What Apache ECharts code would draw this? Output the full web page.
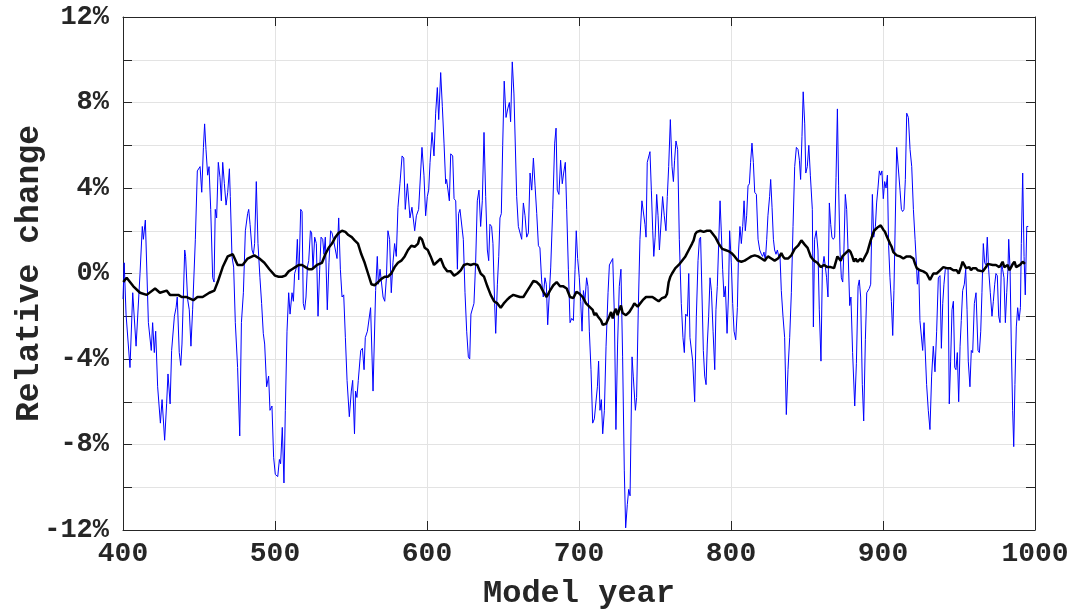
<!DOCTYPE html>
<html><head><meta charset="utf-8">
<script src="https://cdn.jsdelivr.net/npm/echarts@6/dist/echarts.min.js"></script>
<style>html,body{margin:0;padding:0;background:#fff}#c{width:1075px;height:609px}</style>
</head><body><div id="c"></div>
<script>
const blueYears = [400.0,400.8,402.0,404.6,406.4,408.6,411.2,412.7,413.4,414.7,416.7,418.6,419.5,420.6,421.5,422.8,424.6,425.7,427.4,428.7,429.6,431.0,432.0,433.8,434.9,435.7,437.0,438.0,438.8,440.6,441.2,442.5,443.6,444.7,445.8,447.6,448.9,450.7,451.8,452.9,453.7,454.6,455.7,456.6,457.7,459.0,459.9,460.7,461.6,462.7,463.8,464.7,465.6,466.7,467.8,468.9,470.0,470.6,471.7,472.8,473.9,475.4,476.8,477.9,479.2,480.5,482.0,482.7,483.6,484.9,485.8,486.6,487.7,488.8,490.1,491.2,492.3,493.2,494.5,495.8,496.7,498.0,499.1,500.2,501.8,502.9,503.7,504.8,505.9,506.8,507.9,509.0,509.9,511.2,512.1,512.9,513.8,514.7,515.6,516.2,516.9,517.8,518.6,519.5,520.4,521.3,522.2,523.3,524.1,525.0,526.1,527.2,528.3,529.4,530.3,531.4,532.2,533.1,534.4,535.5,536.6,537.5,538.4,539.7,540.8,541.9,543.0,544.1,545.2,546.3,547.4,548.9,550.2,551.1,552.3,553.0,553.9,554.8,556.4,557.5,558.6,559.4,560.8,562.9,564.5,566.2,567.3,568.0,569.1,571.1,572.2,573.3,574.3,575.4,576.5,577.6,578.7,579.8,580.9,582.2,583.6,584.7,585.7,587.1,588.8,590.1,591.9,593.0,594.5,596.7,598.0,599.1,600.2,601.1,602.0,603.3,604.6,605.7,606.8,607.7,609.0,610.1,611.2,612.3,612.9,613.8,614.7,615.6,616.9,617.8,618.9,620.0,620.8,621.7,622.8,623.9,625.0,626.1,627.2,628.1,628.9,629.8,630.9,632.0,633.1,634.2,635.3,636.4,637.5,638.6,639.7,640.6,641.4,642.5,643.4,644.5,645.2,646.3,647.2,648.0,648.9,649.8,650.8,652.0,653.1,654.2,655.0,656.1,657.2,658.1,659.0,660.1,661.2,662.3,663.4,664.5,665.6,666.7,667.8,668.9,670.0,671.1,672.2,673.3,674.3,675.4,676.5,677.6,678.5,679.4,680.5,681.4,682.7,684.0,684.9,685.7,686.8,687.9,689.0,689.9,691.0,691.9,693.0,694.1,695.2,696.3,697.4,698.2,699.1,700.2,701.1,702.0,702.9,703.9,705.0,705.9,706.8,707.9,709.0,710.1,711.2,712.1,712.9,713.8,714.7,715.6,716.7,717.8,719.1,720.0,721.1,722.2,723.3,724.3,725.4,726.5,727.6,728.7,729.8,730.7,731.8,732.7,733.6,734.9,735.7,737.1,737.9,739.0,740.1,741.4,742.3,743.4,744.1,744.9,745.8,746.7,747.6,748.5,749.2,750.1,751.1,752.0,752.9,753.7,755.0,756.1,757.2,758.1,759.0,760.1,761.2,762.1,762.9,763.8,764.9,766.0,767.3,768.4,769.3,770.2,771.3,772.2,773.0,773.9,774.8,776.1,777.2,778.3,779.2,780.0,780.9,781.8,782.7,783.6,784.4,785.3,786.2,787.1,788.2,789.3,790.1,791.0,791.9,792.8,793.6,794.5,795.4,796.3,797.4,798.3,799.1,800.2,801.1,802.0,803.1,804.2,805.0,805.9,806.8,807.7,808.6,809.4,810.3,811.2,812.1,812.9,813.8,814.7,815.6,816.7,817.8,818.9,820.0,820.8,821.7,822.6,823.5,824.3,825.4,826.1,827.0,827.9,828.7,829.6,830.5,831.4,832.2,833.1,834.2,835.3,836.4,837.5,838.6,839.7,840.8,841.9,843.0,844.1,845.0,845.8,846.7,847.5,848.5,849.2,850.2,851.2,852.2,853.5,854.2,855.0,856.1,857.2,858.1,859.2,860.1,861.2,862.1,862.9,863.8,864.7,865.6,866.4,867.3,868.2,869.1,870.0,870.8,871.7,872.6,873.5,874.3,875.2,876.1,877.0,878.1,878.9,880.0,881.4,882.5,883.6,884.4,885.3,886.4,887.3,888.4,889.3,890.1,891.0,891.9,893.0,893.9,895.0,895.8,896.7,897.6,898.5,899.3,900.2,901.1,902.0,902.9,903.7,904.6,905.5,906.4,907.2,908.1,909.0,910.1,911.2,912.1,912.9,913.8,914.7,915.6,916.7,917.8,918.9,920.0,921.1,922.1,922.6,923.5,924.3,925.2,926.1,927.0,927.9,928.7,929.8,930.9,932.0,933.1,934.2,935.3,936.4,937.5,938.4,939.3,940.1,941.0,941.9,942.8,943.6,944.5,945.4,946.3,947.2,948.0,948.9,949.8,950.7,951.5,952.4,953.5,954.4,955.3,956.1,957.2,958.1,959.0,960.1,961.2,962.5,963.4,964.3,965.1,966.0,966.9,967.8,968.6,969.5,970.6,971.7,972.6,973.5,974.3,975.2,976.1,977.0,977.9,978.7,979.6,980.5,981.4,982.2,982.7,983.6,984.4,985.3,986.0,986.8,987.7,988.6,989.5,990.4,991.0,991.9,992.8,993.6,994.6,995.6];
const blueValues = [-1.2,0.5,-1.9,-4.4,-0.9,-3.4,0.0,2.2,1.6,2.5,-2.3,-3.6,-2.3,-3.7,-2.7,-5.3,-7.0,-5.9,-7.8,-6.1,-4.7,-6.1,-3.6,-2.0,-1.6,-1.1,-3.7,-4.3,-3.3,1.1,0.8,-1.2,-1.7,-3.4,-1.7,1.6,4.8,5.0,3.8,5.9,7.0,5.8,4.6,5.0,3.0,-0.2,-0.4,3.0,2.6,5.2,4.5,3.4,5.2,4.2,3.2,3.8,4.9,3.6,0.8,0.3,-2.3,-4.4,-7.6,-2.3,-0.9,2.0,2.8,3.0,2.3,1.1,0.9,1.4,4.3,1.4,-0.2,-1.4,-2.8,-3.3,-5.3,-4.8,-6.4,-6.2,-8.6,-9.4,-9.5,-8.7,-8.9,-7.2,-9.8,-6.4,-2.7,-0.9,-1.9,-0.9,-1.3,0.0,0.2,1.6,-0.3,1.1,3.0,2.9,-1.4,-1.7,-1.1,0.3,0.6,2.0,1.9,0.2,1.7,1.4,-2.0,0.2,1.7,1.6,0.9,1.7,-1.7,0.5,2.0,1.9,1.6,1.6,0.7,2.6,0.2,-1.1,-1.0,-3.0,-5.0,-6.7,-5.5,-5.0,-7.5,-5.5,-5.8,-5.0,-3.6,-3.5,-4.5,-3.0,-2.7,-1.6,-5.5,-0.8,0.8,-0.5,0.2,-1.1,-1.3,-0.2,2.0,1.6,-0.9,0.5,1.4,0.8,3.1,4.2,5.5,5.4,3.0,4.2,2.6,3.1,2.0,2.7,3.0,5.9,4.6,2.7,3.6,3.9,5.2,6.6,5.5,7.5,8.7,7.2,9.4,7.8,6.1,4.2,4.4,4.4,3.4,5.6,5.5,3.5,3.4,0.2,2.8,3.0,3.0,1.6,-0.9,-2.7,-3.9,-4.0,-1.9,-1.9,-1.4,0.5,3.4,3.9,2.2,3.4,6.6,3.6,1.1,0.6,2.3,2.2,1.4,-1.4,-2.8,-0.5,0.8,2.6,2.8,6.0,9.0,7.3,7.7,8.0,7.1,9.9,8.4,8.4,3.6,2.2,2.2,1.6,3.3,2.7,1.7,1.9,4.7,3.9,5.4,4.1,2.8,1.3,1.2,-0.3,-1.1,-0.2,-0.5,-2.4,-0.9,0.3,3.0,6.1,6.8,3.9,3.7,5.3,4.2,4.7,5.2,3.0,0.2,-2.3,-2.1,-2.2,0.2,2.0,0.7,-0.2,-1.3,-2.7,-0.8,-1.3,-0.2,-0.6,-2.7,-4.5,-7.0,-6.8,-6.8,-5.3,-4.1,-6.4,-5.9,-7.5,-6.4,-3.4,-0.9,0.4,0.4,0.7,-2.0,-7.3,-3.3,-0.6,0.2,-3.9,-9.2,-11.9,-10.8,-10.1,-10.4,-3.9,-4.8,-6.4,-5.8,-1.7,1.6,3.4,3.4,2.3,1.7,5.2,5.2,5.7,3.9,2.0,0.8,1.7,3.7,2.7,1.1,1.1,3.6,2.7,2.0,3.6,5.0,7.2,5.0,4.3,5.3,6.2,5.8,1.6,-1.4,-3.0,-3.7,-1.9,-2.0,0.0,-3.0,-3.0,-4.1,-6.0,-2.0,0.6,1.6,1.7,1.7,-3.6,-4.8,-5.2,-3.3,-2.0,-0.2,-0.8,-2.7,-4.5,-1.7,-0.6,1.4,3.4,2.0,0.2,-1.1,-0.6,-2.8,-1.1,2.0,0.5,-1.4,-2.7,-3.1,-1.6,1.1,2.2,1.4,2.2,3.4,2.0,2.7,4.1,4.2,5.2,6.1,5.2,3.8,3.7,1.6,1.1,0.9,0.8,1.0,0.6,1.6,2.7,3.6,4.4,3.1,1.6,1.1,0.9,1.1,0.8,0.9,-0.8,-2.0,-3.0,-6.6,-4.5,-3.0,-0.9,2.2,5.0,5.9,5.8,5.3,4.4,6.4,8.5,7.0,4.7,5.0,6.0,4.6,3.0,-2.5,1.6,2.0,1.1,-1.7,-4.1,0.2,0.8,0.3,-0.2,-1.1,3.3,2.3,1.7,1.6,1.7,4.5,7.7,4.1,1.1,-0.2,-0.4,1.1,3.7,3.0,1.1,-1.5,-1.1,-3.7,-6.2,-4.2,-0.6,-0.3,-1.1,-5.2,-6.9,-3.1,-0.9,-0.9,-0.7,-0.5,3.7,1.7,2.2,3.3,4.0,4.8,4.6,4.8,3.5,4.3,4.0,4.6,1.3,-0.2,-1.3,-2.9,-0.8,-0.8,5.9,5.9,3.9,3.0,2.9,3.0,4.4,7.5,7.3,5.8,5.0,3.0,1.6,0.3,-0.5,0.2,-2.2,-2.2,-3.6,-2.3,-2.3,-5.2,-6.4,-7.3,-4.8,-3.4,-4.6,-2.7,-0.2,-0.1,-3.5,-1.4,-0.5,0.2,0.3,0.2,-6.1,-4.1,-1.7,-1.3,-4.4,-4.5,-3.7,-6.0,-3.4,-2.2,-0.8,-0.5,0.2,-1.7,-4.1,-5.3,-3.6,-3.7,-1.4,-0.9,-3.6,-3.7,-2.7,-0.9,1.4,0.5,0.4,1.7,0.2,-0.9,-2.0,-1.3,-0.5,0.0,-0.1,-2.0,-2.3,0.5,0.2,-0.2,-2.3,-0.9,0.2,1.6,0.2,-3.3,-6.4,-8.1,-5.2,-2.5,-1.6,-2.2,-1.6,1.4,4.7,0.8,-1.0,2.2,2.2];
const blackYears = [400.2,402.4,406.8,411.2,415.6,421.1,424.3,428.7,430.9,436.4,438.6,441.9,446.3,449.0,452.4,456.8,460.1,462.3,465.6,468.9,472.2,475.4,478.7,482.0,486.4,489.7,493.0,496.3,500.0,502.4,504.6,506.8,509.0,511.2,513.4,515.6,517.8,520.0,522.2,524.3,527.6,530.9,533.1,535.3,537.5,539.7,541.9,544.1,546.3,548.3,550.5,552.4,554.6,556.8,559.0,561.2,563.4,565.6,567.8,570.0,572.2,574.3,576.5,578.7,580.9,583.1,585.3,587.5,589.7,591.9,594.1,595.2,596.7,598.5,600.5,602.4,604.6,606.8,609.0,611.2,613.4,615.6,617.8,620.0,622.2,624.3,626.5,628.7,630.9,633.1,635.3,637.5,639.7,641.9,644.1,646.3,648.5,650.5,652.4,654.6,656.8,659.0,661.2,662.3,663.4,665.6,667.8,670.0,672.2,674.3,676.5,678.7,680.9,683.1,685.3,687.5,689.7,691.9,694.1,696.3,698.3,700.4,702.4,704.6,706.8,709.0,710.1,711.2,712.3,713.4,714.5,715.6,717.8,720.0,721.1,722.2,723.3,724.3,725.4,726.5,727.6,728.7,730.9,733.1,735.3,736.4,738.6,739.7,741.9,744.1,746.3,748.3,750.4,752.4,754.6,756.8,757.9,759.0,760.1,761.2,763.4,765.6,767.8,770.0,772.2,773.3,774.4,775.4,776.5,777.6,779.8,782.0,784.2,786.4,787.5,789.7,791.9,794.2,796.3,798.3,800.4,802.4,804.6,806.8,809.0,811.2,813.4,815.6,817.8,820.0,822.2,823.2,824.3,826.5,828.7,830.9,832.0,833.1,834.2,835.3,837.5,839.7,841.9,844.1,845.2,846.3,847.4,848.5,850.4,852.4,854.6,856.8,859.0,861.2,863.4,865.6,867.8,868.9,870.0,871.1,872.2,873.3,875.4,877.6,878.7,879.8,880.9,882.0,883.1,885.3,886.4,887.5,889.7,891.9,894.1,896.3,898.5,900.2,901.3,902.4,903.5,904.6,905.7,906.8,907.9,909.0,911.2,913.4,915.6,917.8,920.0,921.1,922.2,924.3,926.5,928.7,929.8,930.9,932.0,933.1,935.3,937.5,939.7,941.9,944.1,946.3,948.5,949.8,951.3,952.4,953.5,954.6,955.7,956.8,957.9,959.0,960.1,961.2,962.3,963.4,965.6,967.8,968.9,970.0,972.2,974.3,976.5,977.6,978.7,979.8,981.0,982.0,983.2,984.3,985.4,986.5,987.6,988.8,990.1,991.9,993.4];
const blackValues = [-0.4,-0.2,-0.6,-0.9,-1.0,-0.7,-0.9,-0.8,-1.0,-1.0,-1.1,-1.1,-1.25,-1.1,-1.1,-0.9,-0.8,-0.4,0.3,0.8,0.9,0.4,0.4,0.7,0.85,0.7,0.5,0.2,-0.1,-0.15,-0.15,-0.1,0.1,0.2,0.3,0.4,0.4,0.3,0.2,0.2,0.4,0.5,0.9,1.2,1.4,1.7,1.9,2.0,1.95,1.8,1.7,1.55,1.4,0.9,0.5,0.0,-0.5,-0.55,-0.4,-0.25,-0.15,-0.15,0.0,0.3,0.5,0.6,0.8,1.1,1.3,1.25,1.4,1.7,1.6,1.2,1.1,0.8,0.4,0.55,0.7,0.3,0.1,0.1,-0.1,0.0,0.15,0.4,0.45,0.4,0.45,0.4,0.0,-0.15,-0.6,-1.0,-1.3,-1.4,-1.6,-1.4,-1.25,-1.1,-1.0,-1.05,-1.1,-1.15,-1.1,-0.85,-0.6,-0.35,-0.4,-0.55,-0.85,-1.1,-0.8,-0.55,-0.4,-0.6,-0.6,-0.7,-1.1,-1.15,-0.85,-0.95,-1.1,-1.4,-1.55,-1.7,-1.95,-1.85,-2.0,-1.95,-2.2,-2.4,-2.35,-2.0,-1.8,-2.1,-1.8,-1.65,-1.95,-1.7,-1.5,-1.85,-1.95,-1.8,-1.55,-1.4,-1.55,-1.5,-1.25,-1.1,-1.1,-1.1,-1.2,-1.3,-1.15,-1.1,-0.95,-0.4,-0.15,0.0,0.25,0.4,0.6,0.8,1.1,1.1,1.4,1.55,1.85,1.95,2.0,1.95,2.0,2.0,1.95,1.7,1.4,1.15,1.1,1.05,0.95,0.8,0.6,0.55,0.6,0.7,0.8,0.85,0.8,0.7,0.6,0.7,0.8,0.7,0.6,0.7,0.8,0.95,0.8,0.7,0.7,0.85,1.15,1.3,1.35,1.55,1.55,1.35,1.2,0.8,0.6,0.5,0.3,0.4,0.3,0.3,0.25,0.3,0.8,0.85,0.6,0.8,0.95,1.1,1.0,0.8,0.55,0.7,0.55,0.7,0.55,0.7,1.0,1.55,2.0,2.15,2.25,2.05,1.95,1.75,1.7,1.4,1.25,1.0,0.95,0.85,0.8,0.7,0.8,0.8,0.7,0.45,0.25,0.15,0.1,0.0,-0.15,-0.3,-0.15,0.0,0.0,0.15,0.3,0.25,0.25,0.15,0.15,0.0,0.3,0.55,0.4,0.25,0.3,0.3,0.15,0.25,0.3,0.25,0.15,0.1,0.1,0.3,0.45,0.4,0.4,0.4,0.3,0.4,0.55,0.3,0.25,0.4,0.15,0.3,0.45,0.55,0.3,0.25,0.4,0.55,0.45];

const FONT = '"Liberation Mono", "Courier New", monospace';
const AX = '#262626';
const GRIDC = '#e3e3e3';

const chart = echarts.init(document.getElementById('c'), null, {renderer: 'canvas'});
const boxAxis = {
  axisLine: {show: true, onZero: false, lineStyle: {color: AX, width: 1}},
  axisTick: {show: true, inside: true, length: 9, lineStyle: {color: AX, width: 1}}
};
chart.setOption({
  animation: false,
  backgroundColor: '#fff',
  grid: {left: 123, right: 40, top: 17, bottom: 79, containLabel: false, outerBoundsMode: 'none'},
  xAxis: [
    Object.assign({
      type: 'value', min: 400, max: 1000, interval: 100, position: 'bottom',
      axisLabel: {color: AX, fontFamily: FONT, fontWeight: 'bold', fontSize: 28, margin: 10,
        formatter: v => String(v)},
      splitLine: {show: true, lineStyle: {color: GRIDC, width: 1}},
      name: 'Model year', nameLocation: 'middle', nameGap: 48, nameMoveOverlap: false,
      nameTextStyle: {color: AX, fontFamily: FONT, fontWeight: 'bold', fontSize: 32}
    }, boxAxis),
    Object.assign({
      type: 'value', min: 400, max: 1000, interval: 100, position: 'top',
      axisLabel: {show: false}, splitLine: {show: false}
    }, boxAxis)
  ],
  yAxis: [
    Object.assign({
      type: 'value', min: -12, max: 12, interval: 2, position: 'left',
      axisLabel: {color: AX, fontFamily: FONT, fontWeight: 'bold', fontSize: 27, margin: 14,
        formatter: v => (v % 4 === 0 ? String(v) + '%' : '')},
      splitLine: {show: true, lineStyle: {color: GRIDC, width: 1}},
      name: 'Relative change', nameLocation: 'middle', nameGap: 77, nameRotate: 90, nameMoveOverlap: false,
      nameTextStyle: {color: AX, fontFamily: FONT, fontWeight: 'bold', fontSize: 33}
    }, boxAxis),
    Object.assign({
      type: 'value', min: -12, max: 12, interval: 2, position: 'right',
      axisLabel: {show: false}, splitLine: {show: false}
    }, boxAxis)
  ],
  series: [
    {type: 'line', xAxisIndex: 0, yAxisIndex: 0, showSymbol: false, symbol: 'none',
     lineStyle: {color: '#0000ff', width: 1}, data: blueYears.map((y, i) => [y, blueValues[i]]), z: 2},
    {type: 'line', xAxisIndex: 0, yAxisIndex: 0, showSymbol: false, symbol: 'none',
     lineStyle: {color: '#000000', width: 2.5}, data: blackYears.map((y, i) => [y, blackValues[i]]), z: 3}
  ]
});
</script></body></html>
